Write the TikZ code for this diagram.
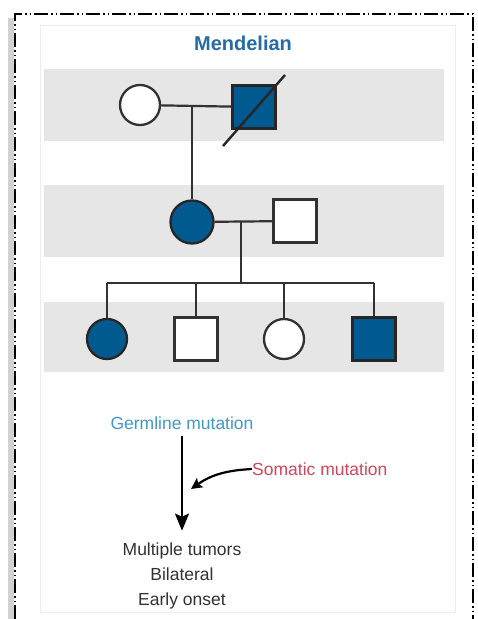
\documentclass[tikz,border=0pt]{standalone}
\usepackage{fontspec}
\setmainfont{Liberation Sans}
\usetikzlibrary{arrows.meta}

\definecolor{pedblue}{RGB}{0,89,143}
\definecolor{titleblue}{RGB}{38,108,164}
\definecolor{germblue}{RGB}{70,150,198}
\definecolor{somared}{RGB}{200,72,94}
\definecolor{bandgray}{RGB}{230,230,230}
\definecolor{linegray}{RGB}{50,50,50}

\tikzset{
  person/.style={draw=linegray,line width=2.3pt,fill=white,inner sep=0pt},
  female/.style={person,circle,minimum size=40pt},
  male/.style={person,rectangle,minimum size=43pt},
  affected/.style={fill=pedblue,draw=black!85},
  link/.style={draw=linegray,line width=2.2pt},
  band/.style={fill=bandgray,draw=none},
  lbl/.style={font=\fontsize{17.5}{25}\selectfont,inner sep=0pt},
  frame/.style={line width=2pt,dash pattern=on 14pt off 3pt on 1.5pt off 3pt on 1.5pt off 3pt}
}

\begin{document}
\begin{tikzpicture}[x=1pt,y=-1pt]
  \useasboundingbox (0,0) rectangle (477,619);
  % outer frame
  \draw[line width=6pt,black!25,opacity=0.7] (11,18) -- (11,619);
  \draw[frame] (15,619) -- (15,14) -- (473,14) -- (473,619);
  \draw[fill=white,draw=black!7,line width=1pt] (40,25) rectangle (455,612);
  % generation bands
  \fill[band] (44,69) rectangle (444,141);
  \fill[band] (44,185) rectangle (444,257);
  \fill[band] (44,302) rectangle (444,372);
  \node[lbl,font=\fontsize{20}{24}\selectfont\bfseries,text=titleblue] (title) at (243,43) {Mendelian};

  % generation I
  \node[female] (gmother) at (140,105) {};
  \node[male,affected] (gfather) at (254,107) {};
  \coordinate (slashA) at (223,146);
  \coordinate (slashB) at (285,75);
  \draw[line width=2.4pt,black!85] (slashA) -- (slashB);
  \coordinate (mate1) at (192,106);
  % generation II
  \node[female,affected,minimum size=43pt] (mother) at (192,222) {};
  \node[male] (father) at (295,221) {};
  \coordinate (mate2) at (241,222);
  \coordinate (sib) at (241,283);
  % generation III
  \node[female,affected] (child1) at (107,339) {};
  \node[male] (child2) at (196,339) {};
  \node[female] (child3) at (284,339) {};
  \node[male,affected] (child4) at (374,339) {};

  \draw[link] (gmother) -- (gfather);
  \draw[link] (mate1) -- (mother);
  \draw[link] (mother) -- (father);
  \draw[link] (mate2) -- (sib);
  \draw[link] (child1 |- sib) -- (child4 |- sib);
  \foreach \c in {child1,child2,child3,child4}
    \draw[link] (\c |- sib) -- (\c);

  % mutations
  \node[lbl,text=germblue] (germ) at (182,423) {Germline mutation};
  \node[lbl,text=somared,anchor=west] (somatic) at (252,469) {Somatic mutation};
  \node[lbl,text=linegray,align=center] (tumors) at (182,576)
    {Multiple tumors\\Bilateral\\Early onset};
  \draw[line width=2.2pt,-{Stealth[length=17pt,width=14pt,inset=3pt]},shorten <=6pt,shorten >=12pt] (germ) -- (tumors);
  \coordinate (hit) at (191,489);
  \draw[line width=2.2pt,-{Stealth[length=11pt,width=11pt,inset=2pt]}] (somatic.west) to[out=183,in=35] (hit);
\end{tikzpicture}
\end{document}
